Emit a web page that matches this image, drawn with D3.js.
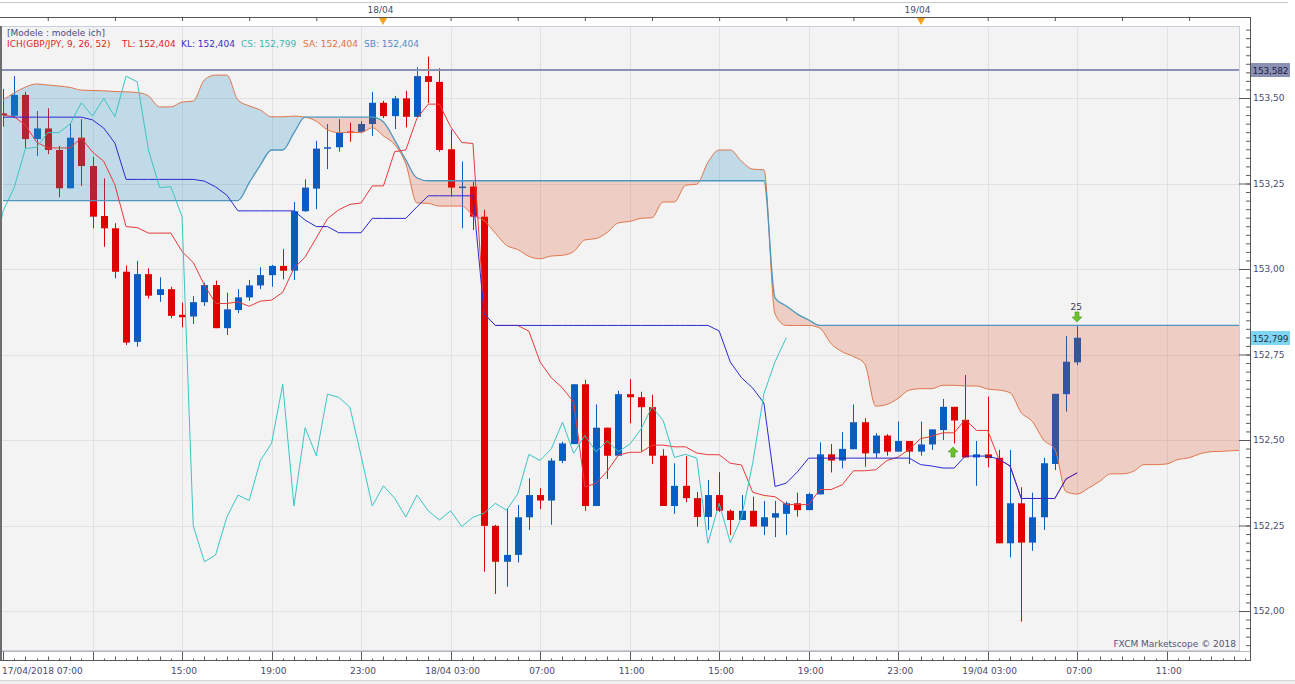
<!DOCTYPE html>
<html lang="en">
<head>
<meta charset="UTF-8">
<title>GBP/JPY - Ichimoku</title>
<style>
  body { margin: 0; background: #fff; }
  svg text { font-family: "DejaVu Sans", sans-serif; font-size: 9px; fill: #4b4b6b; }
</style>
</head>
<body>
<script src="https://d3js.org/d3.v7.min.js"></script>
<script>
// 30 min candles, 17/04/2018 07:00 .. 19/04/2018 07:00 (index 0..96)
var opens = [153.455,153.448,153.509,153.380,153.411,153.348,153.236,153.384,153.301,153.155,
  153.119,152.992,152.787,152.985,152.924,152.941,152.866,152.861,152.903,152.953,
  152.827,152.880,152.917,152.952,152.982,153.009,152.995,153.169,153.235,153.352,
  153.356,153.402,153.401,153.424,153.486,153.447,153.499,153.445,153.564,153.547,
  153.350,153.238,153.241,153.153,152.249,152.144,152.164,152.274,152.339,152.323,
  152.439,152.488,152.663,152.307,152.536,152.454,152.634,152.625,152.596,152.454,
  152.307,152.366,152.330,152.275,152.339,152.293,152.266,152.293,152.247,152.273,
  152.284,152.315,152.295,152.341,152.458,152.440,152.473,152.552,152.461,152.513,
  152.466,152.497,152.466,152.487,152.529,152.597,152.559,152.449,152.458,152.448,
  152.198,152.315,152.200,152.274,152.430,152.634,152.727];
var highs = [153.526,153.564,153.518,153.462,153.470,153.360,153.426,153.438,153.328,153.265,
  153.134,153.010,153.024,153.002,152.976,152.948,152.902,152.921,152.960,152.966,
  152.931,152.941,152.968,153.005,153.012,153.058,153.196,153.262,153.375,153.424,
  153.438,153.428,153.432,153.518,153.492,153.506,153.521,153.590,153.621,153.587,
  153.407,153.314,153.255,153.173,152.252,152.300,152.310,152.388,152.359,152.447,
  152.495,152.663,152.676,152.604,152.536,152.644,152.678,152.641,152.632,152.473,
  152.432,152.453,152.348,152.383,152.406,152.297,152.339,152.334,152.322,152.322,
  152.320,152.346,152.346,152.493,152.488,152.523,152.604,152.564,152.520,152.517,
  152.554,152.497,152.554,152.531,152.620,152.597,152.690,152.497,152.627,152.471,
  152.471,152.362,152.346,152.448,152.635,152.804,152.836];
var lows = [153.416,153.442,153.354,153.331,153.336,153.210,153.236,153.243,153.119,153.065,
  152.973,152.778,152.773,152.914,152.904,152.856,152.830,152.839,152.892,152.827,
  152.807,152.871,152.907,152.941,152.948,152.970,152.968,153.167,153.175,153.292,
  153.343,153.372,153.397,153.389,153.441,153.409,153.414,153.445,153.485,153.343,
  153.211,153.119,153.114,152.115,152.050,152.071,152.142,152.237,152.298,152.252,
  152.432,152.488,152.293,152.307,152.386,152.454,152.549,152.466,152.430,152.307,
  152.284,152.318,152.247,152.237,152.290,152.222,152.266,152.247,152.222,152.216,
  152.222,152.276,152.295,152.341,152.405,152.417,152.473,152.422,152.447,152.454,
  152.466,152.430,152.454,152.471,152.500,152.490,152.449,152.366,152.420,152.198,
  152.157,151.969,152.176,152.237,152.412,152.583,152.719];
var closes = [153.450,153.509,153.380,153.411,153.348,153.236,153.384,153.301,153.153,153.119,
  152.992,152.785,152.985,152.922,152.941,152.863,152.859,152.903,152.953,152.827,
  152.882,152.917,152.952,152.982,153.009,152.995,153.169,153.238,153.352,153.356,
  153.399,153.399,153.424,153.486,153.447,153.499,153.445,153.564,153.547,153.348,
  153.238,153.241,153.153,152.249,152.144,152.164,152.274,152.339,152.323,152.440,
  152.490,152.663,152.307,152.536,152.454,152.634,152.625,152.596,152.454,152.307,
  152.366,152.330,152.275,152.339,152.293,152.266,152.293,152.247,152.274,152.286,
  152.315,152.295,152.342,152.458,152.440,152.474,152.552,152.461,152.513,152.466,
  152.497,152.466,152.487,152.531,152.597,152.557,152.449,152.458,152.447,152.198,
  152.315,152.200,152.274,152.432,152.635,152.729,152.799];

// tenkan (TL) and kijun (KL), one value per candle
var tenkan = [153.450,153.445,153.421,153.371,153.354,153.354,153.354,153.383,153.342,153.315,
  153.246,153.124,153.121,153.105,153.105,153.105,153.051,153.019,152.953,152.899,
  152.899,152.904,152.891,152.906,152.909,152.932,153.002,153.035,153.091,153.147,
  153.173,153.189,153.193,153.243,153.243,153.343,153.348,153.441,153.482,153.482,
  153.416,153.370,153.367,152.868,152.835,152.835,152.835,152.818,152.728,152.682,
  152.652,152.611,152.363,152.373,152.409,152.456,152.464,152.464,152.485,152.485,
  152.480,152.480,152.462,152.457,152.457,152.432,152.427,152.347,152.338,152.334,
  152.311,152.311,152.311,152.355,152.355,152.369,152.410,152.410,152.413,152.440,
  152.450,152.473,152.504,152.511,152.521,152.521,152.560,152.528,152.528,152.444,
  152.424,152.329,152.329,152.329,152.329,152.386,152.404];
var kijun = [153.444,153.444,153.444,153.444,153.444,153.444,153.444,153.444,153.436,153.412,
  153.368,153.262,153.262,153.262,153.262,153.262,153.262,153.262,153.257,153.240,
  153.216,153.170,153.170,153.170,153.170,153.170,153.170,153.143,153.124,153.124,
  153.106,153.106,153.106,153.148,153.148,153.148,153.148,153.182,153.214,153.214,
  153.214,153.214,153.214,152.869,152.835,152.835,152.835,152.835,152.835,152.835,
  152.835,152.835,152.835,152.835,152.835,152.835,152.835,152.835,152.835,152.835,
  152.835,152.835,152.835,152.835,152.819,152.728,152.682,152.652,152.608,152.364,
  152.374,152.407,152.447,152.447,152.447,152.447,152.447,152.447,152.447,152.447,
  152.447,152.447,152.428,152.424,152.418,152.418,152.453,152.453,152.453,152.444,
  152.424,152.329,152.329,152.329,152.329,152.386,152.404];

// chikou (CS) = close drawn 26 bars back
var chikouShift = 26;

// senkou spans as drawn on screen (already pushed 26 bars ahead), index 0..111
var senkouA = [153.494,153.515,153.532,153.541,153.538,153.535,153.531,153.523,153.522,153.521,
  153.519,153.518,153.516,153.506,153.474,153.474,153.488,153.491,153.553,153.567,
  153.567,153.494,153.477,153.465,153.445,153.445,153.447,153.444,153.432,153.407,
  153.399,153.399,153.399,153.413,153.389,153.364,153.307,153.193,153.192,153.184,
  153.184,153.184,153.157,153.141,153.105,153.069,153.057,153.037,153.030,153.038,
  153.040,153.051,153.085,153.089,153.107,153.135,153.139,153.148,153.150,153.196,
  153.196,153.245,153.248,153.312,153.348,153.348,153.315,153.292,153.290,152.868,
  152.835,152.835,152.835,152.827,152.782,152.758,152.744,152.723,152.599,152.604,
  152.622,152.646,152.650,152.650,152.660,152.660,152.658,152.658,152.649,152.646,
  152.638,152.580,152.554,152.500,152.473,152.349,152.342,152.359,152.379,152.401,
  152.401,152.408,152.428,152.428,152.430,152.443,152.448,152.460,152.466,152.467,
  152.469,152.470];
var senkouB = [153.200,153.200,153.200,153.200,153.200,153.200,153.200,153.200,153.200,153.200,
  153.200,153.200,153.200,153.200,153.200,153.200,153.200,153.200,153.200,153.200,
  153.200,153.200,153.252,153.304,153.348,153.348,153.398,153.444,153.444,153.444,
  153.444,153.444,153.444,153.444,153.430,153.377,153.319,153.266,153.258,153.258,
  153.258,153.258,153.258,153.258,153.258,153.258,153.258,153.258,153.258,153.258,
  153.258,153.258,153.258,153.258,153.258,153.258,153.258,153.258,153.258,153.258,
  153.258,153.258,153.258,153.258,153.258,153.258,153.258,153.258,153.258,152.915,
  152.892,152.868,152.851,152.835,152.835,152.835,152.835,152.835,152.835,152.835,
  152.835,152.835,152.835,152.835,152.835,152.835,152.835,152.835,152.835,152.835,
  152.835,152.835,152.835,152.835,152.835,152.835,152.835,152.835,152.835,152.835,
  152.835,152.835,152.835,152.835,152.835,152.835,152.835,152.835,152.835,152.835,
  152.835,152.835];

var levelPrice = 153.582;
var priceTicks = [152.00, 152.25, 152.50, 152.75, 153.00, 153.25, 153.50];
var bottomTickIdx = [0, 16, 24, 32, 40, 48, 56, 64, 72, 80, 88, 96, 104];
var bottomTickLabels = ["17/04/2018 07:00", "15:00", "19:00", "23:00", "18/04 03:00", "07:00",
  "11:00", "15:00", "19:00", "23:00", "19/04 03:00", "07:00", "11:00"];
var dayIdx = [34, 82];
var dayLabels = ["18/04", "19/04"];
var upSignals = [85];
var downSignals = [96];
var downSignalText = ["25"];
var legendNames = ["TL", "KL", "CS", "SA", "SB"];
var legendValues = [152.404, 152.404, 152.799, 152.404, 152.404];

var W = 1295, H = 684;
var P = {left: 1, right: 1239, top: 27, bottom: 651};
var axisX = 1250;

var x = d3.scaleLinear().domain([0, 96]).range([3, 1077.2]);
var y = d3.scaleLinear().domain([152, 153.5]).range([611, 98]);
var loc = d3.formatLocale({decimal: ",", thousands: " ", grouping: [3], currency: ["", ""]});
var f2 = loc.format(".2f"), f3 = loc.format(".3f");

var svg = d3.select("body").append("svg").attr("width", W).attr("height", H);

// frame bits
svg.append("line").attr("x1", 0).attr("x2", 1288).attr("y1", 2.5).attr("y2", 2.5).attr("stroke", "#c8c8c8");
svg.append("rect").attr("x", 0).attr("y", 680).attr("width", W).attr("height", 4).attr("fill", "#efefef");
svg.append("line").attr("x1", 0).attr("x2", W).attr("y1", 680.5).attr("y2", 680.5).attr("stroke", "#d4d4d4");

// plot panel
svg.append("rect").attr("x", P.left + 0.5).attr("y", P.top - 0.5)
  .attr("width", P.right - P.left).attr("height", P.bottom - P.top)
  .attr("fill", "#f3f3f3").attr("stroke", "#c8cfdc");

svg.append("clipPath").attr("id", "plotClip").append("rect")
  .attr("x", P.left + 1).attr("y", P.top).attr("width", P.right - P.left - 1).attr("height", P.bottom - P.top);

var grid = svg.append("g").attr("clip-path", "url(#plotClip)");
grid.selectAll(".vg").data(d3.range(8, 113, 8)).join("line")
  .attr("x1", d => Math.round(x(d)) + 0.5).attr("x2", d => Math.round(x(d)) + 0.5)
  .attr("y1", P.top).attr("y2", P.bottom).attr("stroke", "#e1e1e1");
grid.selectAll(".hg").data(priceTicks).join("line")
  .attr("x1", P.left).attr("x2", P.right)
  .attr("y1", d => Math.round(y(d)) + 0.5).attr("y2", d => Math.round(y(d)) + 0.5).attr("stroke", "#e1e1e1");

var g = svg.append("g").attr("clip-path", "url(#plotClip)");

// candles
var idx = d3.range(closes.length);
var upCol = "#0a5dc0", dnCol = "#e00000";
var candle = g.append("g").selectAll("g").data(idx).join("g");
candle.append("line")
  .attr("x1", i => Math.round(x(i)) + 0.5).attr("x2", i => Math.round(x(i)) + 0.5)
  .attr("y1", i => y(highs[i])).attr("y2", i => y(lows[i]))
  .attr("stroke", i => closes[i] >= opens[i] ? upCol : dnCol).attr("stroke-width", 1);
candle.append("rect")
  .attr("x", i => Math.round(x(i)) - 3).attr("width", 7)
  .attr("y", i => y(Math.max(opens[i], closes[i])))
  .attr("height", i => Math.max(1.5, Math.abs(y(opens[i]) - y(closes[i]))))
  .attr("fill", i => closes[i] >= opens[i] ? upCol : dnCol);

// kumo
var cj = d3.range(senkouA.length);
var curve = d3.curveMonotoneX;
svg.append("clipPath").attr("id", "aboveB").append("path")
  .attr("d", d3.area().curve(curve).x(j => x(j)).y0(P.top - 20).y1(j => y(senkouB[j]))(cj));
svg.append("clipPath").attr("id", "belowB").append("path")
  .attr("d", d3.area().curve(curve).x(j => x(j)).y0(P.bottom + 20).y1(j => y(senkouB[j]))(cj));
var kumo = d3.area().curve(curve).x(j => x(j)).y0(j => y(senkouB[j])).y1(j => y(senkouA[j]));
g.append("g").attr("clip-path", "url(#aboveB)").append("path")
  .attr("d", kumo(cj)).attr("fill", "#3094c8").attr("fill-opacity", 0.26);
g.append("g").attr("clip-path", "url(#belowB)").append("path")
  .attr("d", kumo(cj)).attr("fill", "#dc3c0a").attr("fill-opacity", 0.2);

function drawLine(data, xf, yf, col, crv, w) {
  g.append("path").datum(data)
    .attr("d", d3.line().curve(crv || d3.curveLinear).x(xf).y(yf))
    .attr("fill", "none").attr("stroke", col).attr("stroke-width", w || 1);
}
drawLine(cj, j => x(j), j => y(senkouA[j]), "#e0764c", curve);
drawLine(cj, j => x(j), j => y(senkouB[j]), "#4d96bd", curve, 1.3);
drawLine(idx, i => x(i), i => y(tenkan[i]), "#e83a3a");
drawLine(idx, i => x(i), i => y(kijun[i]), "#2a2ad2");
drawLine(idx, i => x(i - chikouShift), i => y(closes[i]), "#3cc4c4");

// level line
g.append("line").attr("x1", P.left).attr("x2", P.right)
  .attr("y1", y(levelPrice)).attr("y2", y(levelPrice))
  .attr("stroke", "#8a90b6").attr("stroke-width", 2);

// signals
function arrow(cx, tip, s) {
  return "M" + cx + "," + tip + "L" + (cx + 5) + "," + (tip + 5 * s) + "L" + (cx + 2) + "," + (tip + 5 * s) +
    "L" + (cx + 2) + "," + (tip + 10 * s) + "L" + (cx - 2) + "," + (tip + 10 * s) + "L" + (cx - 2) + "," + (tip + 5 * s) +
    "L" + (cx - 5) + "," + (tip + 5 * s) + "Z";
}
g.selectAll(".up").data(upSignals).join("path")
  .attr("d", i => arrow(Math.round(x(i)) - 1, Math.round(y(lows[i])) + 4, 1))
  .attr("fill", "#6cc02c").attr("stroke", "#4f9a1c").attr("stroke-width", 0.6);
g.selectAll(".dn").data(downSignals).join("path")
  .attr("d", i => arrow(Math.round(x(i)), Math.round(y(highs[i])) - 3, -1))
  .attr("fill", "#6cc02c").attr("stroke", "#4f9a1c").attr("stroke-width", 0.6);
g.selectAll(".dnt").data(downSignals).join("text")
  .attr("x", i => x(i) - 1).attr("y", i => y(highs[i]) - 15)
  .attr("text-anchor", "middle").style("fill", "#404050").text((i, k) => downSignalText[k]);

// legend
svg.append("text").attr("x", 7).attr("y", 36).style("fill", "#4a4a80").text("[Modele : modele ich]");
var legendCols = ["#e02828", "#3434c4", "#3cb6b2", "#e0723e", "#4a92c4"];
var legendX = [122, 181, 241, 303, 364];
svg.append("text").attr("x", 7).attr("y", 46.5).style("fill", "#e02828").text("ICH(GBP/JPY, 9, 26, 52)");
svg.selectAll(".lg").data(legendNames).join("text")
  .attr("x", (d, k) => legendX[k]).attr("y", 46.5)
  .style("fill", (d, k) => legendCols[k])
  .text((d, k) => d + ": " + f3(legendValues[k]));

svg.append("text").attr("x", 1236).attr("y", 647).attr("text-anchor", "end")
  .style("fill", "#55557a").text("FXCM Marketscope \u00a9 2018");

// right price axis
var minorTicks = d3.range(151.9, 153.71, 0.025).filter(v => y(v) > P.top + 2 && y(v) < P.bottom - 2);
var ya1 = svg.append("g").attr("transform", "translate(" + axisX + ",0)")
  .call(d3.axisLeft(y).tickValues(minorTicks).tickSize(4).tickFormat(""));
var ya2 = svg.append("g").attr("transform", "translate(" + axisX + ",0)")
  .call(d3.axisLeft(y).tickValues(priceTicks).tickSize(11).tickFormat(""));
var ya3 = svg.append("g").attr("transform", "translate(" + axisX + ",0)")
  .call(d3.axisRight(y).tickValues(priceTicks).tickSize(0).tickPadding(3).tickFormat(f2));
[ya1, ya2, ya3].forEach(function (a) {
  a.select(".domain").remove();
  a.selectAll("line").attr("stroke", "#5a5a5a");
  a.selectAll("text").attr("font-family", null).attr("font-size", null).style("fill", "#4b4b6b");
});
svg.append("line").attr("x1", axisX + 0.5).attr("x2", axisX + 0.5).attr("y1", 17).attr("y2", 660.5)
  .attr("stroke", "#555");

function priceTag(v, bg, txt) {
  var yy = Math.round(y(v));
  svg.append("rect").attr("x", axisX + 1).attr("y", yy - 7).attr("width", 39).attr("height", 14).attr("fill", bg);
  svg.append("text").attr("x", axisX + 2.5).attr("y", yy + 3.5).style("fill", txt)
    .style("letter-spacing", "-0.2px").text(f3(v));
}
priceTag(levelPrice, "#8a90b4", "#1f2040");
priceTag(closes[closes.length - 1], "#7fd6f2", "#1f2f50");

// top date strip
svg.append("line").attr("x1", 0).attr("x2", axisX).attr("y1", 17.5).attr("y2", 17.5).attr("stroke", "#555");
var topAxis = svg.append("g").attr("transform", "translate(0,17.5)")
  .call(d3.axisBottom(x).tickValues(d3.range(4, 110, 6)).tickSize(3.5).tickFormat(""));
topAxis.select(".domain").remove();
topAxis.selectAll("line").attr("stroke", "#555");
svg.selectAll(".tri").data(dayIdx).join("path")
  .attr("d", i => { var c = Math.round(x(i)); return "M" + (c - 4) + ",18L" + (c + 4) + ",18L" + c + ",25Z"; })
  .attr("fill", "#f5a21e");
svg.selectAll(".day").data(dayIdx).join("text")
  .attr("x", i => x(i) - 3).attr("y", 13).attr("text-anchor", "middle")
  .text((i, k) => dayLabels[k]);

// bottom time axis
svg.append("line").attr("x1", 0).attr("x2", axisX).attr("y1", 651.5).attr("y2", 651.5).attr("stroke", "#b8b8b8");
svg.append("line").attr("x1", 0).attr("x2", axisX + 1).attr("y1", 660.5).attr("y2", 660.5).attr("stroke", "#5a5a5a");
var xMinor = svg.append("g").attr("transform", "translate(0,660.5)")
  .call(d3.axisTop(x).tickValues(d3.range(1, 112).filter(i => i % 8 !== 0)).tickSize(2).tickFormat(""));
var xHour = svg.append("g").attr("transform", "translate(0,660.5)")
  .call(d3.axisTop(x).tickValues(d3.range(2, 112, 2).filter(i => i % 8 !== 0)).tickSize(4).tickFormat(""));
var xMajor = svg.append("g").attr("transform", "translate(0,660.5)")
  .call(d3.axisTop(x).tickValues(d3.range(0, 112, 8)).tickSize(9).tickFormat(""));
[xMinor, xHour, xMajor].forEach(function (a) {
  a.select(".domain").remove();
  a.selectAll("line").attr("stroke", "#5a5a5a");
  a.selectAll(".tick").attr("transform", function (d) { return "translate(" + (Math.round(x(d)) + 0.5) + ",0)"; });
});
svg.selectAll(".xl").data(bottomTickIdx).join("text")
  .attr("x", (i, k) => k === 0 ? 2 : x(i) + 2)
  .attr("y", 674)
  .attr("text-anchor", (i, k) => k === 0 ? "start" : "middle")
  .text((i, k) => bottomTickLabels[k]);

// left edge
svg.append("rect").attr("x", 0).attr("y", P.top - 1).attr("width", 2).attr("height", 660 - P.top + 1).attr("fill", "#6e6e6e");
</script>
</body>
</html>
